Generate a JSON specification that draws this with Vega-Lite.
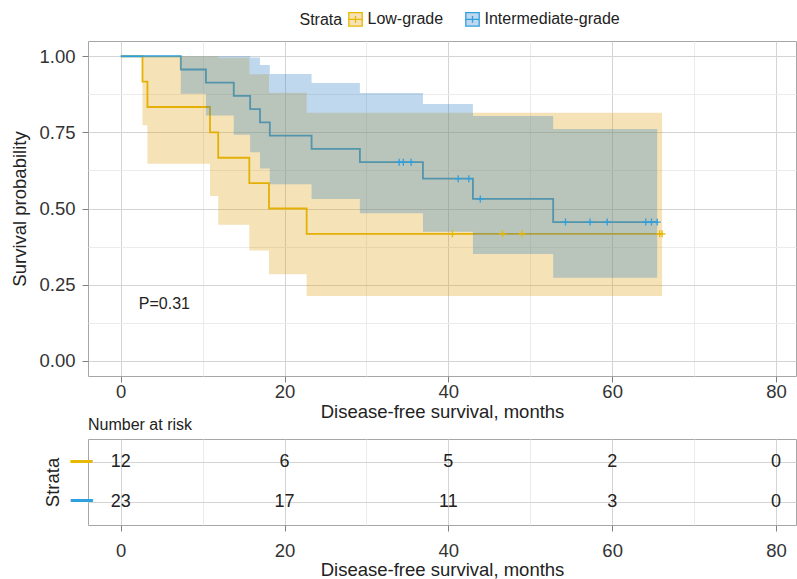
{
  "$schema": "https://vega.github.io/schema/vega-lite/v6.json",
  "background": "white",
  "padding": {"left": 10, "top": 11, "right": 0, "bottom": 0},
  "spacing": -6,
  "datasets": {
    "km": [
      {"strata": "Low-grade", "time": 0, "surv": 1, "lower": 1, "upper": 1},
      {"strata": "Low-grade", "time": 2.65, "surv": 0.9167, "lower": 0.773, "upper": 1},
      {"strata": "Low-grade", "time": 3.26, "surv": 0.8333, "lower": 0.647, "upper": 1},
      {"strata": "Low-grade", "time": 10.9, "surv": 0.75, "lower": 0.541, "upper": 1},
      {"strata": "Low-grade", "time": 11.9, "surv": 0.6667, "lower": 0.447, "upper": 0.995},
      {"strata": "Low-grade", "time": 15.7, "surv": 0.5833, "lower": 0.362, "upper": 0.941},
      {"strata": "Low-grade", "time": 18.1, "surv": 0.5, "lower": 0.284, "upper": 0.88},
      {"strata": "Low-grade", "time": 22.7, "surv": 0.4167, "lower": 0.213, "upper": 0.814},
      {"strata": "Low-grade", "time": 66.1, "surv": 0.4167, "lower": 0.213, "upper": 0.814},
      {"strata": "Intermediate-grade", "time": 0, "surv": 1, "lower": 1, "upper": 1},
      {"strata": "Intermediate-grade", "time": 7.33, "surv": 0.9565, "lower": 0.877, "upper": 1},
      {"strata": "Intermediate-grade", "time": 10.4, "surv": 0.913, "lower": 0.805, "upper": 1},
      {"strata": "Intermediate-grade", "time": 13.8, "surv": 0.8696, "lower": 0.742, "upper": 1},
      {"strata": "Intermediate-grade", "time": 15.8, "surv": 0.8261, "lower": 0.685, "upper": 0.996},
      {"strata": "Intermediate-grade", "time": 17.0, "surv": 0.7826, "lower": 0.631, "upper": 0.971},
      {"strata": "Intermediate-grade", "time": 18.2, "surv": 0.7391, "lower": 0.58, "upper": 0.942},
      {"strata": "Intermediate-grade", "time": 23.3, "surv": 0.6957, "lower": 0.531, "upper": 0.912},
      {"strata": "Intermediate-grade", "time": 29.2, "surv": 0.6522, "lower": 0.484, "upper": 0.879},
      {"strata": "Intermediate-grade", "time": 36.9, "surv": 0.5978, "lower": 0.424, "upper": 0.843},
      {"strata": "Intermediate-grade", "time": 43.0, "surv": 0.5314, "lower": 0.351, "upper": 0.804},
      {"strata": "Intermediate-grade", "time": 52.8, "surv": 0.4555, "lower": 0.273, "upper": 0.761},
      {"strata": "Intermediate-grade", "time": 65.5, "surv": 0.4555, "lower": 0.273, "upper": 0.761}
    ],
    "censor": [
      {"strata": "Low-grade", "time": 40.5, "surv": 0.4167},
      {"strata": "Low-grade", "time": 46.6, "surv": 0.4167},
      {"strata": "Low-grade", "time": 49.0, "surv": 0.4167},
      {"strata": "Low-grade", "time": 65.8, "surv": 0.4167},
      {"strata": "Low-grade", "time": 66.1, "surv": 0.4167},
      {"strata": "Intermediate-grade", "time": 34.0, "surv": 0.6522},
      {"strata": "Intermediate-grade", "time": 34.5, "surv": 0.6522},
      {"strata": "Intermediate-grade", "time": 35.45, "surv": 0.6522},
      {"strata": "Intermediate-grade", "time": 41.2, "surv": 0.5978},
      {"strata": "Intermediate-grade", "time": 42.5, "surv": 0.5978},
      {"strata": "Intermediate-grade", "time": 43.9, "surv": 0.5314},
      {"strata": "Intermediate-grade", "time": 54.3, "surv": 0.4555},
      {"strata": "Intermediate-grade", "time": 57.3, "surv": 0.4555},
      {"strata": "Intermediate-grade", "time": 59.4, "surv": 0.4555},
      {"strata": "Intermediate-grade", "time": 64.1, "surv": 0.4555},
      {"strata": "Intermediate-grade", "time": 64.8, "surv": 0.4555},
      {"strata": "Intermediate-grade", "time": 65.5, "surv": 0.4555}
    ],
    "risk": [
      {"strata": "Low-grade", "time": 0, "n": 12},
      {"strata": "Low-grade", "time": 20, "n": 6},
      {"strata": "Low-grade", "time": 40, "n": 5},
      {"strata": "Low-grade", "time": 60, "n": 2},
      {"strata": "Low-grade", "time": 80, "n": 0},
      {"strata": "Intermediate-grade", "time": 0, "n": 23},
      {"strata": "Intermediate-grade", "time": 20, "n": 17},
      {"strata": "Intermediate-grade", "time": 40, "n": 11},
      {"strata": "Intermediate-grade", "time": 60, "n": 3},
      {"strata": "Intermediate-grade", "time": 80, "n": 0}
    ]
  },
  "config": {
    "font": "Liberation Sans",
    "view": {"stroke": "#a6a6a6", "strokeWidth": 1},
    "axis": {
      "labelFont": "Liberation Sans",
      "labelFontSize": 18.5,
      "labelColor": "#333333",
      "titleFont": "Liberation Sans",
      "titleFontSize": 18.5,
      "titleFontWeight": "normal",
      "titleColor": "#222222",
      "domain": false,
      "tickColor": "#808080",
      "tickSize": 6,
      "grid": true
    },
    "legend": {
      "labelFont": "Liberation Sans",
      "titleFont": "Liberation Sans"
    }
  },
  "vconcat": [
    {
      "width": 708,
      "height": 335,
      "layer": [
        {
          "data": {"name": "km"},
          "mark": {"type": "line", "interpolate": "step-after", "strokeWidth": 1.8},
          "encoding": {
            "x": {
              "field": "time", "type": "quantitative",
              "title": "Disease-free survival, months",
              "scale": {"domain": [-4, 82.45], "nice": false, "zero": false},
              "axis": {
                "values": [0, 10, 20, 30, 40, 50, 60, 70, 80],
                "labelExpr": "datum.value % 20 === 0 ? datum.label : ''",
                "tickOpacity": {"condition": {"test": "datum.value % 20 === 0", "value": 1}, "value": 0},
                "gridColor": {"condition": {"test": "datum.value % 20 === 0", "value": "#d4d4d4"}, "value": "#ebebeb"},
                "labelPadding": 0,
                "titlePadding": 2
              }
            },
            "y": {
              "field": "surv", "type": "quantitative",
              "title": "Survival probability",
              "scale": {"domain": [-0.05, 1.05], "nice": false, "zero": false},
              "axis": {
                "values": [0, 0.125, 0.25, 0.375, 0.5, 0.625, 0.75, 0.875, 1],
                "format": ".2f",
                "labelExpr": "(datum.value * 8) % 2 === 0 ? datum.label : ''",
                "tickOpacity": {"condition": {"test": "(datum.value * 8) % 2 === 0", "value": 1}, "value": 0},
                "gridColor": {"condition": {"test": "(datum.value * 8) % 2 === 0", "value": "#d4d4d4"}, "value": "#ebebeb"},
                "labelPadding": 7,
                "titlePadding": 9
              }
            },
            "stroke": {
              "field": "strata", "type": "nominal",
              "scale": {"domain": ["Low-grade", "Intermediate-grade"], "range": ["#E7B800", "#2E9FDF"]},
              "legend": {
                "title": "Strata", "orient": "none", "legendX": 211.5, "legendY": -30,
                "direction": "horizontal", "titleOrient": "left",
                "symbolType": "M-1,-1H1V1H-1Z M-1,0H1 M0,-0.5V0.5",
                "symbolSize": 180, "symbolStrokeWidth": 1.3,
                "labelFontSize": 16, "titleFontSize": 16, "titleFontWeight": "normal",
                "columnPadding": 19, "labelOffset": 4, "padding": 0,
                "titleColor": "#222222", "labelColor": "#222222", "titlePadding": 5
              }
            }
          }
        },
        {
          "data": {"name": "km"},
          "mark": {"type": "area", "interpolate": "step-after"},
          "encoding": {
            "x": {"field": "time", "type": "quantitative", "title": "Disease-free survival, months", "scale": {"domain": [-4, 82.45], "nice": false, "zero": false}},
            "y": {"field": "lower", "type": "quantitative", "title": "Survival probability", "scale": {"domain": [-0.05, 1.05], "nice": false, "zero": false}},
            "y2": {"field": "upper"},
            "fill": {
              "field": "strata", "type": "nominal",
              "scale": {"domain": ["Low-grade", "Intermediate-grade"], "range": ["rgba(222,158,15,0.3)", "rgba(48,125,198,0.3)"]},
              "legend": {
                "title": "Strata", "orient": "none", "legendX": 211.5, "legendY": -30,
                "direction": "horizontal", "titleOrient": "left",
                "symbolType": "M-1,-1H1V1H-1Z M-1,0H1 M0,-0.5V0.5",
                "symbolSize": 180, "symbolStrokeWidth": 1.3,
                "labelFontSize": 16, "titleFontSize": 16, "titleFontWeight": "normal",
                "columnPadding": 19, "labelOffset": 4, "padding": 0,
                "titleColor": "#222222", "labelColor": "#222222", "titlePadding": 5
              }
            }
          }
        },
        {
          "data": {"name": "censor"},
          "mark": {"type": "point", "shape": "M0,-1V1M-1,0H1", "filled": false, "size": 49, "strokeWidth": 1.3, "opacity": 1},
          "encoding": {
            "x": {"field": "time", "type": "quantitative", "title": "Disease-free survival, months", "scale": {"domain": [-4, 82.45], "nice": false, "zero": false}},
            "y": {"field": "surv", "type": "quantitative", "title": "Survival probability", "scale": {"domain": [-0.05, 1.05], "nice": false, "zero": false}},
            "stroke": {
              "field": "strata", "type": "nominal",
              "scale": {"domain": ["Low-grade", "Intermediate-grade"], "range": ["#E7B800", "#2E9FDF"]},
              "legend": null
            }
          }
        },
        {
          "data": {"values": [{}]},
          "mark": {"type": "text", "align": "left", "baseline": "middle", "fontSize": 16, "font": "Liberation Sans", "color": "#222222"},
          "encoding": {
            "x": {"datum": 2.2, "type": "quantitative"},
            "y": {"datum": 0.185, "type": "quantitative"},
            "text": {"value": "P=0.31"}
          }
        }
      ]
    },
    {
      "width": 708,
      "height": 86,
      "title": {"text": "Number at risk", "anchor": "start", "frame": "group", "fontSize": 16, "font": "Liberation Sans", "fontWeight": "normal", "color": "#222222", "offset": 6},
      "data": {"name": "risk"},
      "mark": {"type": "text", "fontSize": 18, "font": "Liberation Sans", "color": "#222222"},
      "encoding": {
        "x": {
          "field": "time", "type": "quantitative",
          "title": "Disease-free survival, months",
          "scale": {"domain": [-4, 82.45], "nice": false, "zero": false},
          "axis": {
            "values": [0, 10, 20, 30, 40, 50, 60, 70, 80],
            "labelExpr": "datum.value % 20 === 0 ? datum.label : ''",
            "tickOpacity": {"condition": {"test": "datum.value % 20 === 0", "value": 1}, "value": 0},
            "gridColor": {"condition": {"test": "datum.value % 20 === 0", "value": "#d4d4d4"}, "value": "#ebebeb"},
            "labelPadding": 10,
            "titlePadding": 1
          }
        },
        "y": {
          "field": "strata", "type": "nominal",
          "title": "Strata",
          "scale": {"type": "point", "padding": 0.58, "domain": ["Low-grade", "Intermediate-grade"]},
          "axis": {
            "grid": true,
            "gridColor": "#d4d4d4",
            "ticks": false,
            "labelExpr": "'━━'",
            "labelFont": "DejaVu Sans",
            "labelFontSize": 18,
            "labelColor": {"condition": {"test": "datum.value === 'Low-grade'", "value": "#E7B800"}, "value": "#2E9FDF"},
            "labelPadding": -4,
            "titlePadding": 8
          }
        },
        "text": {"field": "n", "type": "quantitative"}
      }
    }
  ]
}
